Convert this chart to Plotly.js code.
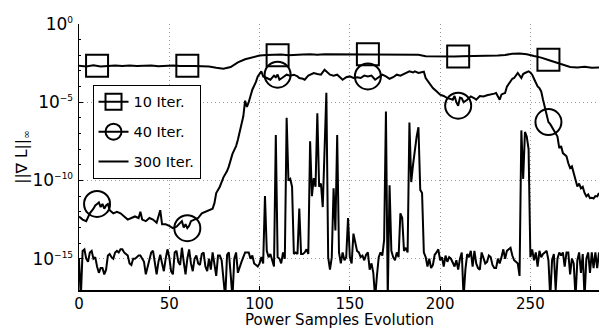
<!DOCTYPE html>
<html>
<head>
<meta charset="utf-8">
<script src="https://cdn.plot.ly/plotly-3.0.1.min.js"></script>
<style>html,body{margin:0;padding:0;background:#fff;}</style>
</head>
<body>
<div id="chart" style="width:600px;height:329px"></div>
<script>
// Series names / legend labels and axis titles
const seriesNames = ['10 Iter.', '40 Iter.', '300 Iter.'];
const xTitle = 'Power Samples Evolution';
const yTitle = '||\u2207 L||<sub>\u221e</sub>';

// Axis tick labels
const xTickVals = [0, 50, 100, 150, 200, 250];
const yTickExps = [0, -5, -10, -15];
const supStyle = 'font-size:9px';
const yTickText = ['10<sup><span style="' + supStyle + '">0</span></sup>',
                   '10<sup><span style="' + supStyle + '">\u22125</span></sup>',
                   '10<sup><span style="' + supStyle + '">\u221210</span></sup>',
                   '10<sup><span style="' + supStyle + '">\u221215</span></sup>'];

// 10 Iter. : x positions and log10 values
const iter10X = [0,4,8,12,16,20,24,28,32,36,40,44,48,52,56,60,64,68,72,76,80,84,88,92,96,100,104,108,112,116,120,124,128,132,136,140,144,148,152,156,160,164,168,172,176,180,184,188,192,196,200,204,208,212,216,220,224,228,232,236,240,244,248,252,256,260,264,268,272,276,280,284,288];
const iter10Exp = [-2.67,-2.71,-2.64,-2.72,-2.68,-2.65,-2.68,-2.66,-2.69,-2.67,-2.65,-2.70,-2.68,-2.66,-2.69,-2.67,-2.68,-2.70,-2.72,-2.80,-2.86,-2.75,-2.45,-2.25,-2.12,-2.02,-1.98,-1.96,-1.95,-2.00,-1.96,-1.95,-1.94,-1.96,-1.93,-1.93,-1.95,-1.94,-1.93,-1.95,-1.94,-1.94,-1.93,-1.94,-1.95,-1.95,-1.95,-1.96,-2.06,-2.07,-2.07,-2.05,-2.08,-2.06,-2.05,-2.07,-2.05,-2.04,-2.02,-1.98,-1.90,-1.88,-1.93,-2.05,-2.15,-2.30,-2.45,-2.62,-2.75,-2.78,-2.74,-2.80,-2.78];
const iter10MarkX = [10, 60, 110, 160, 210, 260];
const iter10MarkExp = [-2.67, -2.67, -1.99, -1.94, -2.07, -2.28];

// 40 Iter. : x positions and log10 values
const iter40X = [
0,2,4,6,8,9,10,11,12,13,
14,15,16,17,19,21,23,25,27,29,
31,33,34,35,37,39,41,43,45,46,
48,50,52,54,56,57,58,59,60,61,
62,64,66,68,70,72,74,75,76,78,
80,82,83,85,87,88,90,91,92,93,
94,96,98,99,101,102,104,106,108,109,
110,111,113,115,117,119,121,122,124,125,
127,128,130,132,134,136,138,139,141,143,
145,146,148,150,152,154,156,158,160,162,
164,166,168,170,172,174,176,178,180,182,
183,185,186,188,189,191,192,194,196,198,
200,202,204,206,207,208,209,210,211,212,
213,215,217,219,220,222,224,226,228,230,
231,232,233,234,236,237,239,240,241,242,
243,245,246,247,249,250,251,252,253,254,
255,256,257,258,259,260,261,262,263,264,
265,266,267,268,270,271,272,273,274,275,
276,277,278,279,280,281,282,283,284,285,
286,287,288];
const iter40Exp = [
-12.3,-12.5,-12.6,-12.1,-11.8,-11.6,-11.5,-11.4,-11.7,-11.5,
-11.8,-11.6,-11.5,-11.9,-12.1,-12.0,-12.1,-12.3,-12.5,-12.4,
-12.3,-12.4,-12.0,-12.5,-12.6,-12.4,-12.5,-12.7,-11.9,-12.8,
-12.8,-12.9,-13.05,-12.95,-12.7,-12.6,-13.0,-12.8,-13.05,-12.9,
-12.6,-12.5,-12.4,-12.1,-12.0,-11.9,-11.8,-11.45,-10.8,-10.4,
-9.8,-9.4,-9.1,-8.3,-7.8,-7.4,-6.3,-5.9,-4.9,-5.3,
-5.0,-4.2,-3.7,-3.35,-3.03,-3.35,-3.45,-3.56,-3.3,-3.4,
-3.24,-3.56,-3.4,-3.24,-3.3,-3.24,-3.35,-3.45,-3.5,-3.56,
-3.3,-3.24,-3.13,-3.2,-3.24,-2.92,-3.1,-3.24,-3.3,-3.24,
-3.45,-3.56,-3.4,-3.35,-3.45,-3.4,-3.45,-3.3,-3.35,-3.3,
-3.56,-3.4,-3.24,-3.35,-3.5,-3.4,-3.24,-3.3,-3.2,-3.1,
-3.03,-3.1,-3.03,-3.13,-3.1,-3.05,-3.45,-3.8,-4.09,-4.3,
-4.52,-4.6,-4.73,-4.8,-4.84,-4.6,-5.0,-5.22,-4.7,-4.75,
-5.0,-4.84,-4.63,-4.75,-4.84,-4.6,-4.63,-4.55,-4.52,-4.45,
-4.41,-4.6,-4.84,-4.5,-4.41,-4.0,-3.67,-3.5,-3.45,-3.3,
-3.13,-3.45,-3.2,-3.13,-3.03,-3.1,-3.24,-3.5,-3.8,-3.99,
-4.1,-4.31,-4.84,-5.27,-5.69,-6.27,-6.4,-6.6,-6.87,-7.0,
-7.19,-7.93,-7.8,-8.25,-8.46,-8.9,-9.2,-9.1,-9.53,-9.9,
-10.38,-10.2,-10.5,-10.4,-10.8,-11.02,-10.9,-11.13,-11.1,-11.15,
-11.0,-11.02,-10.8];
const iter40MarkX = [10, 60, 110, 160, 210, 260];
const iter40MarkExp = [-11.5, -13.05, -3.24, -3.35, -5.22, -6.27];

// 300 Iter. : one value per sample (x = 0..288), log10 values
const iter300Exp = [
-15.0,-17.5,-14.5,-14.4,-15.0,-15.2,-14.6,-14.5,-15.0,-14.9,
-15.5,-15.9,-15.6,-15.6,-16.0,-15.7,-14.8,-14.7,-14.9,-15.0,
-14.6,-14.5,-14.6,-14.4,-14.4,-14.6,-14.7,-14.8,-15.3,-15.4,
-15.0,-15.0,-14.9,-14.8,-14.8,-15.0,-15.2,-16.0,-15.5,-15.0,
-14.6,-14.5,-15.4,-16.0,-15.2,-14.75,-15.3,-15.8,-15.0,-14.4,
-14.9,-15.8,-16.0,-14.6,-14.5,-15.2,-15.4,-14.3,-15.2,-16.0,
-15.0,-14.4,-15.3,-15.8,-15.0,-14.8,-15.3,-15.4,-14.7,-14.6,
-15.5,-15.8,-15.0,-15.7,-14.6,-15.5,-16.1,-14.8,-14.8,-15.1,
-16.5,-17.5,-14.75,-14.6,-16.0,-17.5,-15.0,-14.6,-15.9,-15.5,
-15.2,-14.9,-14.6,-14.6,-14.6,-15.0,-14.8,-15.3,-15.4,-15.5,
-15.3,-14.9,-15.3,-11.0,-14.5,-14.9,-14.7,-15.2,-15.5,-7.1,
-14.9,-15.0,-15.3,-14.6,-15.0,-6.0,-10.0,-9.9,-10.4,-14.7,
-14.6,-14.7,-11.8,-14.7,-14.7,-14.6,-14.4,-14.7,-7.5,-11.0,
-9.85,-10.4,-5.7,-10.4,-10.2,-11.7,-8.0,-4.4,-14.9,-15.7,
-14.9,-10.5,-13.2,-7.1,-14.6,-15.3,-14.6,-15.1,-14.9,-12.4,
-14.9,-15.3,-13.4,-14.0,-14.5,-14.6,-14.9,-14.8,-15.1,-14.75,
-14.6,-15.7,-15.3,-15.9,-17.5,-16.1,-14.9,-14.6,-14.8,-13.8,
-5.6,-17.5,-10.3,-14.5,-14.9,-15.1,-14.6,-14.9,-12.1,-12.4,
-14.5,-14.3,-14.6,-6.3,-10.1,-9.0,-8.0,-7.2,-6.6,-10.6,
-10.8,-14.6,-14.9,-15.5,-15.0,-15.6,-15.4,-14.75,-14.6,-14.4,
-15.1,-14.9,-15.5,-14.8,-15.2,-14.9,-15.0,-15.3,-15.5,-15.1,
-15.7,-15.0,-14.6,-17.5,-15.7,-14.7,-14.9,-14.5,-15.5,-14.5,
-15.3,-15.6,-15.7,-14.6,-15.0,-15.3,-15.2,-14.8,-14.9,-15.4,
-15.6,-15.6,-15.0,-15.3,-14.9,-14.4,-15.0,-14.5,-14.4,-14.3,
-14.8,-15.1,-15.2,-15.3,-16.1,-6.8,-9.9,-6.9,-7.2,-8.0,
-14.9,-14.4,-15.1,-14.6,-15.5,-14.5,-14.9,-14.7,-14.6,-14.5,
-15.1,-17.5,-15.1,-14.7,-17.0,-15.0,-14.6,-14.8,-14.6,-15.5,
-14.6,-14.6,-16.0,-15.0,-15.3,-17.5,-15.1,-14.6,-15.9,-14.7,
-17.5,-15.0,-14.6,-15.9,-14.6,-15.6,-14.6,-15.6,-14.6];

const toVal = e => Math.pow(10, e);
const iter300X = iter300Exp.map((_, i) => i);

// isolated marker points (separated by gaps so no connecting line is drawn)
function gapped(xs, es) {
  const gx = [], gy = [];
  xs.forEach((x, i) => { gx.push(x, null); gy.push(toVal(es[i]), null); });
  return {x: gx, y: gy};
}
const m10 = gapped(iter10MarkX, iter10MarkExp);
const m40 = gapped(iter40MarkX, iter40MarkExp);

const LW = 2;
const data = [
  {x: iter10X, y: iter10Exp.map(toVal), mode: 'lines', line: {color: 'black', width: LW},
   legendgroup: 'a', showlegend: false, hoverinfo: 'skip'},
  {x: m10.x, y: m10.y, name: seriesNames[0], mode: 'lines+markers', legendgroup: 'a',
   connectgaps: false, line: {color: 'black', width: LW},
   marker: {symbol: 'square-open', size: 22, color: 'black', line: {width: 2}}},
  {x: iter40X, y: iter40Exp.map(toVal), mode: 'lines', line: {color: 'black', width: LW},
   legendgroup: 'b', showlegend: false, hoverinfo: 'skip'},
  {x: m40.x, y: m40.y, name: seriesNames[1], mode: 'lines+markers', legendgroup: 'b',
   connectgaps: false, line: {color: 'black', width: LW},
   marker: {symbol: 'circle-open', size: 26, color: 'black', line: {width: 2}}},
  {x: iter300X, y: iter300Exp.map(toVal), name: seriesNames[2], mode: 'lines', legendgroup: 'c',
   line: {color: 'black', width: LW}}
];

const FONT = 'DejaVu Sans, sans-serif';
const GRID = '#999999';
const layout = {
  width: 600, height: 329,
  margin: {l: 79, r: 1, t: 24, b: 39, pad: 0},
  paper_bgcolor: 'white', plot_bgcolor: 'white',
  font: {family: FONT, color: 'black', size: 15},
  showlegend: true,
  legend: {
    x: 0.026, y: 0.771, xanchor: 'left', yanchor: 'top',
    bgcolor: 'white', bordercolor: 'black', borderwidth: 1,
    font: {family: FONT, size: 14.5, color: 'black'},
    traceorder: 'grouped', tracegroupgap: 8
  },
  xaxis: {
    range: [0, 288], tickmode: 'array', tickvals: xTickVals,
    ticks: 'inside', ticklen: 4, tickcolor: 'black', tickwidth: 1,
    showline: true, linecolor: 'black', linewidth: 1.5, mirror: false,
    showgrid: true, gridcolor: GRID, griddash: '1px,3px', gridwidth: 1,
    zeroline: false, automargin: false, ticklabelstandoff: -1,
    tickfont: {family: FONT, size: 15, color: 'black'}
  },
  yaxis: {
    type: 'log', range: [-17, 0], tickmode: 'array',
    tickvals: yTickExps.map(toVal), ticktext: yTickText,
    ticks: 'inside', ticklen: 4, tickcolor: 'black', tickwidth: 1,
    minor: {dtick: 1, ticks: 'inside', ticklen: 2, tickcolor: 'black', showgrid: false},
    showline: true, linecolor: 'black', linewidth: 1.5, mirror: false,
    showgrid: true, gridcolor: GRID, griddash: '1px,3px', gridwidth: 1,
    zeroline: false, automargin: false, ticklabelstandoff: 1,
    tickfont: {family: FONT, size: 17, color: 'black'}
  },
  annotations: [
    {text: xTitle, xref: 'paper', yref: 'paper', x: 0.5, y: 0, xanchor: 'center', yanchor: 'top',
     yshift: -19, showarrow: false, font: {family: FONT, size: 15, color: 'black'}},
    {text: yTitle, xref: 'paper', yref: 'paper', x: -0.108, y: 0.5, xanchor: 'center', yanchor: 'middle',
     textangle: -90, showarrow: false, font: {family: FONT, size: 15.5, color: 'black'}}
  ]
};

Plotly.newPlot('chart', data, layout, {displayModeBar: false, staticPlot: true});
</script>
</body>
</html>
